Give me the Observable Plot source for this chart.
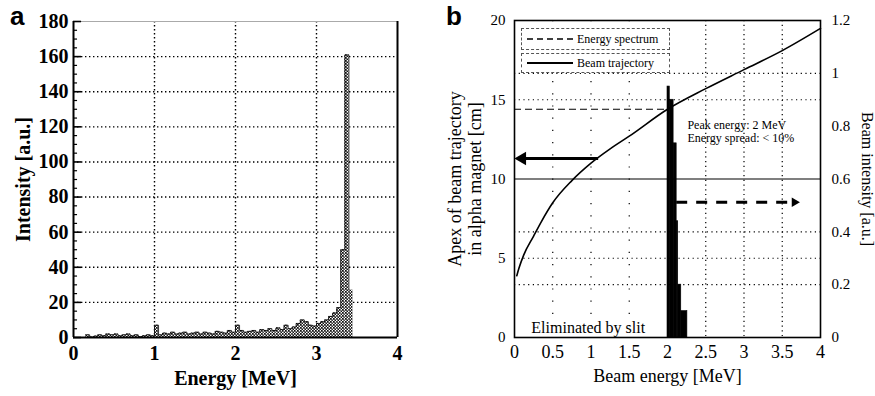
<!DOCTYPE html>
<html><head><meta charset="utf-8">
<script src="https://cdn.jsdelivr.net/npm/d3@7"></script>
<script src="https://cdn.jsdelivr.net/npm/@observablehq/plot@0.6"></script>
<style>
html,body{margin:0;padding:0;background:#fff;}
#wrap{position:relative;width:875px;height:396px;overflow:hidden;background:#fff;}
#wrap svg.panel, #wrap svg.panel text{font-family:"Liberation Serif","Times New Roman",serif !important;}
.panel{position:absolute;top:0;}
.tag{position:absolute;font-family:"Liberation Sans",Arial,sans-serif;font-weight:bold;font-size:26px;line-height:1;}
.leg{position:absolute;border:1px dashed #555;box-sizing:border-box;font-family:"Liberation Serif",serif;font-size:12px;display:flex;align-items:center;background:#fff;gap:3px;padding-left:4px;}
</style></head><body>
<svg width="0" height="0" style="position:absolute">
  <defs>
    <pattern id="hatch" width="3" height="3" patternUnits="userSpaceOnUse">
      <rect width="3" height="3" fill="#fff"/>
      <path d="M0,0h1.7v1.7h-1.7zM1.5,1.5h1.5v1.5h-1.5z" fill="#111"/>
    </pattern>
  </defs>
</svg>
<div id="wrap">
  <div class="tag" style="left:10px;top:3px;">a</div>
  <div class="tag" style="left:446px;top:3px;">b</div>
</div>
<script>
// ---------- Panel a: measured energy spectrum ----------
const binWidthA = 0.05;
const binStartA = [0.15,0.20,0.25,0.30,0.35,0.40,0.45,0.50,0.55,0.60,0.65,0.70,0.75,0.80,0.85,0.90,0.95,
  1.00,1.05,1.10,1.15,1.20,1.25,1.30,1.35,1.40,1.45,1.50,1.55,1.60,1.65,1.70,1.75,1.80,1.85,1.90,1.95,
  2.00,2.05,2.10,2.15,2.20,2.25,2.30,2.35,2.40,2.45,2.50,2.55,2.60,2.65,2.70,2.75,2.80,2.85,2.90,2.95,
  3.00,3.05,3.10,3.15,3.20,3.25,3.30,3.35,3.40];
const intensityA = [1.5,0.3,0.8,1.5,1.0,2.0,1.5,2.0,1.0,1.5,2.0,1.0,1.5,0.5,1.0,1.5,1.0,
  7.0,1.5,2.5,2.0,3.0,2.0,2.5,3.0,2.0,2.5,3.0,2.0,3.0,2.5,2.0,3.5,3.0,2.5,4.0,3.0,
  7.0,4.0,3.0,3.5,4.0,3.0,4.5,4.0,5.0,4.0,5.5,4.5,7.0,5.0,6.0,8.0,10.0,9.0,7.0,6.5,
  8.0,9.0,10.0,12.0,14.0,17.0,50.0,161.0,27.0];
const ticksAX = [0,1,2,3,4];
const gridAX = [1,2,3];
const ticksAY = [0,20,40,60,80,100,120,140,160,180];
const gridAY = [20,40,60,80,100,120,140,160];
const minorAY = [5,10,15,25,30,35,45,50,55,65,70,75,85,90,95,105,110,115,125,130,135,145,150,155,165,170,175];

// ---------- Panel b: simulated beam ----------
const trajE  = [0.03,0.06,0.12,0.25,0.35,0.5,0.75,1.0,1.25,1.5,2.0,2.5,3.0,3.5,4.0];
const trajCm = [3.9,4.4,5.2,6.4,7.3,8.5,9.9,11.0,11.9,12.7,14.4,15.7,16.9,18.1,19.5];
const beamE1 = [2.00,2.03,2.08,2.12,2.14,2.18];
const beamE2 = [2.03,2.08,2.12,2.14,2.18,2.26];
const beamI  = [0.95,0.90,0.735,0.44,0.20,0.10];
const ticksBX = [0,0.5,1,1.5,2,2.5,3,3.5,4];
const ticksBCm = [0,5,10,15,20];
const ticksBI = [0,0.2,0.4,0.6,0.8,1,1.2];
const gridBXsparse = [0.5,1,1.5];
const gridBXdense = [2.5,3,3.5];
const gridBCm = [5,15];
const gridBI = [0.2,0.4,1.0];
const solidRuleCm = [10];
const guideCm = [{x1:0, x2:2.0, y:14.4}];
const arrowCm = [{x1:1.1, x2:0.1, head:0.1, y:11.3}];
const arrowI = [{x1:2.12, x2:3.6, head:3.66, y:0.512}];
const notesCm = [
  {x:2.26, y:13.4, t:"Peak energy: 2 MeV", s:12},
  {x:2.26, y:12.6, t:"Energy spread: < 10%", s:12},
  {x:0.22, y:0.6, t:"Eliminated by slit", s:16}
];

const histA = binStartA.map((e,i)=>({e, e2:e+binWidthA, v:intensityA[i]}));
const traj = trajE.map((e,i)=>({e, cm:trajCm[i]}));
const beam = beamE1.map((e,i)=>({e1:e, e2:beamE2[i], v:beamI[i]}));

const wrap = document.getElementById("wrap");
function place(svg, left){ svg.classList.add("panel"); svg.style.left = left+"px"; wrap.appendChild(svg); }

const plotA = Plot.plot({
  width: 440, height: 396,
  marginLeft: 73, marginRight: 43, marginTop: 21, marginBottom: 59,
  x: {domain:[0,4]}, y: {domain:[0,180]},
  style: {fontSize:"21px", fontWeight:"bold", color:"#000", background:"transparent", overflow:"visible"},
  marks: [
    Plot.gridX(gridAX, {stroke:"#000", strokeOpacity:1, strokeWidth:1.4, strokeDasharray:"1.4,2.6"}),
    Plot.gridY(gridAY, {stroke:"#000", strokeOpacity:1, strokeWidth:1.4, strokeDasharray:"1.4,2.6"}),
    Plot.rectY(histA, {x1:"e", x2:"e2", y:"v", fill:"url(#hatch)", inset:0}),
    Plot.lineY(histA, {x:"e", y:"v", curve:"step-after", stroke:"#000", strokeWidth:0.8}),
    Plot.ruleY([180], {stroke:"#aaa", strokeWidth:1}),
    Plot.ruleX([0,4], {stroke:"#000", strokeWidth:2}),
    Plot.ruleY([0], {stroke:"#000", strokeWidth:2}),
    Plot.ruleY(minorAY, {y:d=>d, x1:0, x2:0.05, stroke:"#000", strokeWidth:1.2}),
    Plot.ruleY(ticksAY, {y:d=>d, x1:0, x2:0.1, stroke:"#000", strokeWidth:1.6}),
    Plot.axisY({ticks: ticksAY, tickSize:0, tickPadding:5, tickFormat:d=>String(d), label:"Intensity [a.u.]", labelAnchor:"center", labelOffset:58, labelArrow:"none", fontSize:20}),
    Plot.axisX({ticks: ticksAX, tickSize:0, tickPadding:8, tickFormat:d=>String(d), label:"Energy [MeV]", labelAnchor:"center", labelOffset:47, labelArrow:"none", fontSize:20})
  ]
});
place(plotA, 0);

const commonB = {width:435, height:396, marginLeft:74, marginRight:55, marginTop:20, marginBottom:59};
const styleB = {fontSize:"15px", color:"#000", background:"transparent", overflow:"visible"};

const plotB1 = Plot.plot({
  ...commonB,
  x: {domain:[0,4]}, y: {domain:[0,20]},
  style: styleB,
  marks: [
    Plot.gridX(gridBXsparse, {stroke:"#000", strokeOpacity:1, strokeWidth:1.2, strokeDasharray:"1.2,11"}),
    Plot.gridX(gridBXdense, {stroke:"#000", strokeOpacity:1, strokeWidth:1.2, strokeDasharray:"1.2,3.5"}),
    Plot.gridY(gridBCm, {stroke:"#000", strokeOpacity:1, strokeWidth:1.2, strokeDasharray:"1.2,3.5"}),
    Plot.ruleY(solidRuleCm, {stroke:"#000", strokeWidth:1.2}),
    Plot.ruleY(guideCm, {y:"y", x1:"x1", x2:"x2", stroke:"#000", strokeWidth:1.2, strokeDasharray:"7,4"}),
    Plot.line(traj, {x:"e", y:"cm", curve:"monotone-x", stroke:"#000", strokeWidth:1.6}),
    Plot.ruleY(arrowCm, {y:"y", x1:"x1", x2:"x2", stroke:"#000", strokeWidth:3}),
    Plot.dot(arrowCm, {x:"head", y:"y", symbol:"triangle", rotate:-90, r:5, fill:"#000", stroke:null}),
    Plot.text(notesCm, {x:"x", y:"y", text:"t", fontSize:"s", textAnchor:"start", fill:"#000"}),
    Plot.frame({stroke:"#000", strokeWidth:1.6}),
    Plot.axisY({ticks: ticksBCm, tickSize:0, tickPadding:9, label:null}),
    Plot.axisX({ticks: ticksBX, tickSize:0, tickPadding:8, tickFormat:d=>String(d), label:"Beam energy [MeV]", labelAnchor:"center", labelOffset:44, labelArrow:"none", fontSize:18}),
    Plot.text(["Apex of beam trajectory\nin alpha magnet [cm]"], {frameAnchor:"left", textAnchor:"middle", lineAnchor:"middle", rotate:-90, dx:-50, text:d=>d, fontSize:18, lineHeight:1.12, fill:"#000"})
  ]
});
place(plotB1, 440);

const plotB2 = Plot.plot({
  ...commonB,
  x: {domain:[0,4], axis:null}, y: {domain:[0,1.2]},
  style: styleB,
  marks: [
    Plot.gridY(gridBI, {stroke:"#000", strokeOpacity:1, strokeWidth:1.2, strokeDasharray:"1.2,3.5"}),
    Plot.rectY(beam, {x1:"e1", x2:"e2", y:"v", fill:"#000", stroke:"#000", strokeWidth:0.6, inset:0}),
    Plot.ruleY(arrowI, {y:"y", x1:"x1", x2:"x2", stroke:"#000", strokeWidth:3, strokeDasharray:"11,9"}),
    Plot.dot(arrowI, {x:"head", y:"y", symbol:"triangle", rotate:90, r:3.5, fill:"#000", stroke:null}),
    Plot.axisY({anchor:"right", ticks: ticksBI, tickSize:0, tickPadding:11, tickFormat:d=>String(d), label:null}),
    Plot.text(["Beam intensity [a.u.]"], {frameAnchor:"right", textAnchor:"middle", lineAnchor:"middle", rotate:90, dx:47, text:d=>d, fontSize:16, fill:"#000"})
  ]
});
place(plotB2, 440);

// legend boxes (inside panel b)
const legendItems = [
  {label:"Energy spectrum", dash:"6,4", top:28, h:22},
  {label:"Beam trajectory", dash:null, top:53, h:20}
];
legendItems.forEach(it=>{
  const d = document.createElement("div");
  d.className = "leg";
  d.style.left = "521px"; d.style.top = it.top+"px"; d.style.width = "149px"; d.style.height = it.h+"px";
  d.innerHTML = `<svg width="48" height="6"><line x1="1" x2="47" y1="3" y2="3" stroke="#000" stroke-width="${it.dash?1.3:1.8}" ${it.dash?`stroke-dasharray="${it.dash}"`:""}/></svg><span>${it.label}</span>`;
  wrap.appendChild(d);
});
</script>
</body></html>
